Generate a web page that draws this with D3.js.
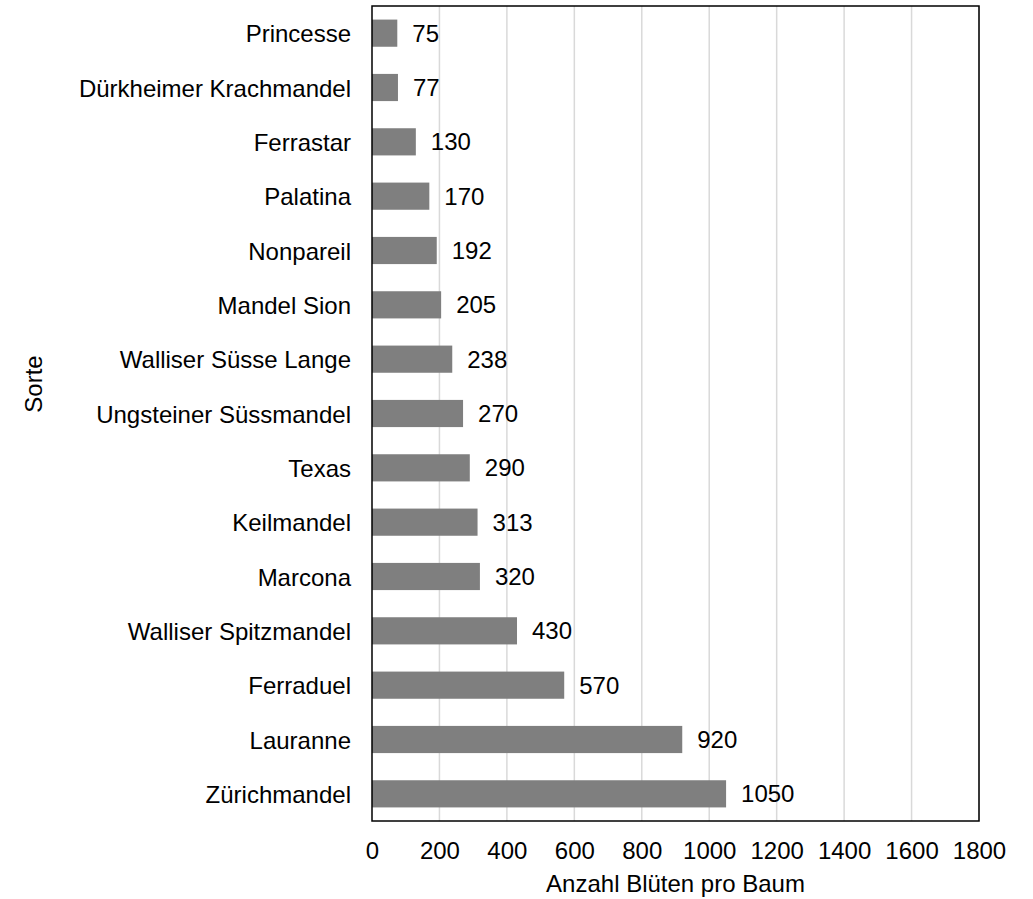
<!DOCTYPE html>
<html>
<head>
<meta charset="utf-8">
<script src="https://cdn.jsdelivr.net/npm/d3@7"></script>
<style>
  body { margin: 0; background: #fff; }
  text { font-family: "Liberation Sans", Arial, sans-serif; fill: #000; }
</style>
</head>
<body>
<div id="drawArea"></div>
<script>
// Sorten (top to bottom) and Anzahl Blüten pro Baum
var sorten = ['Princesse', 'Dürkheimer Krachmandel', 'Ferrastar', 'Palatina', 'Nonpareil',
    'Mandel Sion', 'Walliser Süsse Lange', 'Ungsteiner Süssmandel', 'Texas', 'Keilmandel',
    'Marcona', 'Walliser Spitzmandel', 'Ferraduel', 'Lauranne', 'Zürichmandel'];
var blueten = [75, 77, 130, 170, 192, 205, 238, 270, 290, 313, 320, 430, 570, 920, 1050];
var xTicks = [0, 200, 400, 600, 800, 1000, 1200, 1400, 1600, 1800];

var width = 1033, height = 899;
var margin = {top: 6, right: 54, bottom: 78, left: 372};
var fontSize = '24px';

var svg = d3.select('#drawArea')
    .append('svg')
    .attr('width', width)
    .attr('height', height);

var x = d3.scaleLinear()
    .domain([0, 1800])
    .range([margin.left, width - margin.right]);

var y = d3.scaleBand()
    .domain(sorten)
    .range([margin.top, height - margin.bottom])
    .paddingInner(0.5)
    .paddingOuter(0.25);

// gridlines
svg.append('g')
    .selectAll('line')
    .data(xTicks.slice(1))
    .enter()
    .append('line')
    .attr('x1', function(d) { return x(d); })
    .attr('x2', function(d) { return x(d); })
    .attr('y1', margin.top)
    .attr('y2', height - margin.bottom)
    .attr('stroke', '#d9d9d9')
    .attr('stroke-width', 1.5);

// bars
var data = sorten.map(function(s, i) { return {sorte: s, wert: blueten[i]}; });

svg.append('g')
    .selectAll('rect')
    .data(data)
    .enter()
    .append('rect')
    .attr('x', x(0))
    .attr('y', function(d) { return y(d.sorte); })
    .attr('width', function(d) { return x(d.wert) - x(0); })
    .attr('height', y.bandwidth())
    .attr('fill', '#7f7f7f');

// value labels
svg.append('g')
    .selectAll('text')
    .data(data)
    .enter()
    .append('text')
    .attr('x', function(d) { return x(d.wert) + 15; })
    .attr('y', function(d) { return y(d.sorte) + y.bandwidth() / 2; })
    .attr('dy', '0.36em')
    .style('font-size', fontSize)
    .text(function(d) { return d.wert; });

// frame
svg.append('rect')
    .attr('x', margin.left)
    .attr('y', margin.top)
    .attr('width', x(1800) - x(0))
    .attr('height', height - margin.bottom - margin.top)
    .attr('fill', 'none')
    .attr('stroke', '#000')
    .attr('stroke-width', 1.5);

// x axis
var xAxis = svg.append('g')
    .attr('transform', 'translate(0,' + (height - margin.bottom) + ')')
    .call(d3.axisBottom(x).tickValues(xTicks).tickFormat(d3.format('d')).tickSize(0).tickPadding(21));
xAxis.select('.domain').remove();
xAxis.selectAll('text')
    .style('font-size', fontSize)
    .style('font-family', '"Liberation Sans", Arial, sans-serif')
    .attr('fill', '#000');

// y axis
var yAxis = svg.append('g')
    .attr('transform', 'translate(' + margin.left + ',0)')
    .call(d3.axisLeft(y).tickSize(0).tickPadding(21));
yAxis.select('.domain').remove();
yAxis.selectAll('text')
    .attr('dy', '0.38em')
    .style('font-size', fontSize)
    .style('font-family', '"Liberation Sans", Arial, sans-serif')
    .attr('fill', '#000');

// axis titles
svg.append('text')
    .attr('x', (x(0) + x(1800)) / 2)
    .attr('y', 892)
    .attr('text-anchor', 'middle')
    .style('font-size', fontSize)
    .text('Anzahl Blüten pro Baum');

svg.append('text')
    .attr('transform', 'translate(42,384) rotate(-90)')
    .attr('text-anchor', 'middle')
    .style('font-size', fontSize)
    .text('Sorte');
</script>
</body>
</html>
